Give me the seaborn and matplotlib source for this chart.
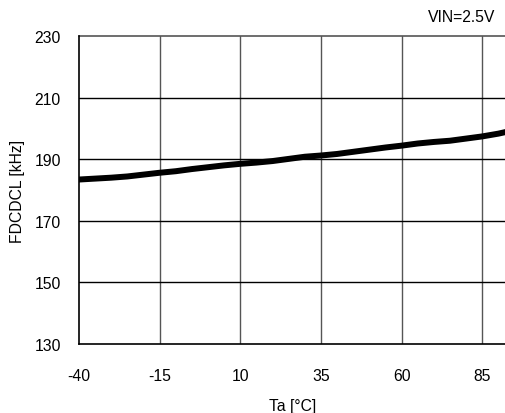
import matplotlib
matplotlib.use("Agg")
import matplotlib.pyplot as plt
import seaborn as sns
import pandas as pd

temps = [-40, -35, -30, -25, -20, -15, -10, -5, 0, 5, 10, 15, 20, 25, 30, 35, 40, 45, 50, 55, 60, 65, 70, 75, 80, 85, 90, 93]
freq = [183.4, 183.7, 184.0, 184.4, 185.0, 185.6, 186.1, 186.8, 187.4, 188.0, 188.5, 188.9, 189.4, 190.1, 190.8, 191.2, 191.7, 192.4, 193.1, 193.8, 194.4, 195.1, 195.6, 196.0, 196.7, 197.4, 198.3, 199.0]
xticks = [-40, -15, 10, 35, 60, 85]
yticks = [130, 150, 170, 190, 210, 230]

sns.set_theme(style="white")
plt.rcParams['font.family'] = ['Liberation Sans', 'DejaVu Sans']
plt.rcParams['text.color'] = 'black'
plt.rcParams['axes.labelcolor'] = 'black'
plt.rcParams['xtick.color'] = 'black'
plt.rcParams['ytick.color'] = 'black'

fs = 11.3
df = pd.DataFrame({"Ta": temps, "F": freq})
fig = plt.figure(figsize=(5.05, 4.14), dpi=100)
ax = fig.add_axes([79/505, 1 - 345/414, 1 - 79/505 + 0.001, (345 - 37)/414])
ax.set_axisbelow(True)
for x in xticks[1:]:
    ax.axvline(x, color="#555555", lw=1.0, zorder=0)
for y in yticks[1:-1]:
    ax.axhline(y, color="black", lw=1.0, zorder=0)
ax.axhline(yticks[-1], color="#555555", lw=1.2, zorder=0, clip_on=False)
sns.lineplot(data=df, x="Ta", y="F", color="black", linewidth=4.3, ax=ax, zorder=3)
ax.set_xlim(-40, 92.2)
ax.set_ylim(130, 230)
ax.set_xticks(xticks)
ax.set_yticks(yticks)
ax.set_xticklabels([str(t) for t in xticks], fontsize=fs)
ax.set_yticklabels([str(t) for t in yticks], fontsize=fs)
ax.tick_params(axis="x", length=0, pad=17, colors="black")
ax.tick_params(axis="y", length=0, pad=13, colors="black")
for s in ["left", "bottom"]:
    ax.spines[s].set_color("black")
    ax.spines[s].set_linewidth(1.2)
ax.spines["top"].set_visible(False)
ax.spines["right"].set_visible(False)
ax.set_xlabel("Ta [°C]", fontsize=fs, labelpad=11, color="black")
ax.set_ylabel("FDCDCL [kHz]", fontsize=fs, labelpad=7, color="black")
fig.text(495/505, 1 - 17/414, "VIN=2.5V", ha="right", va="center", fontsize=fs, color="black")
fig.savefig("out.png", dpi=100)
